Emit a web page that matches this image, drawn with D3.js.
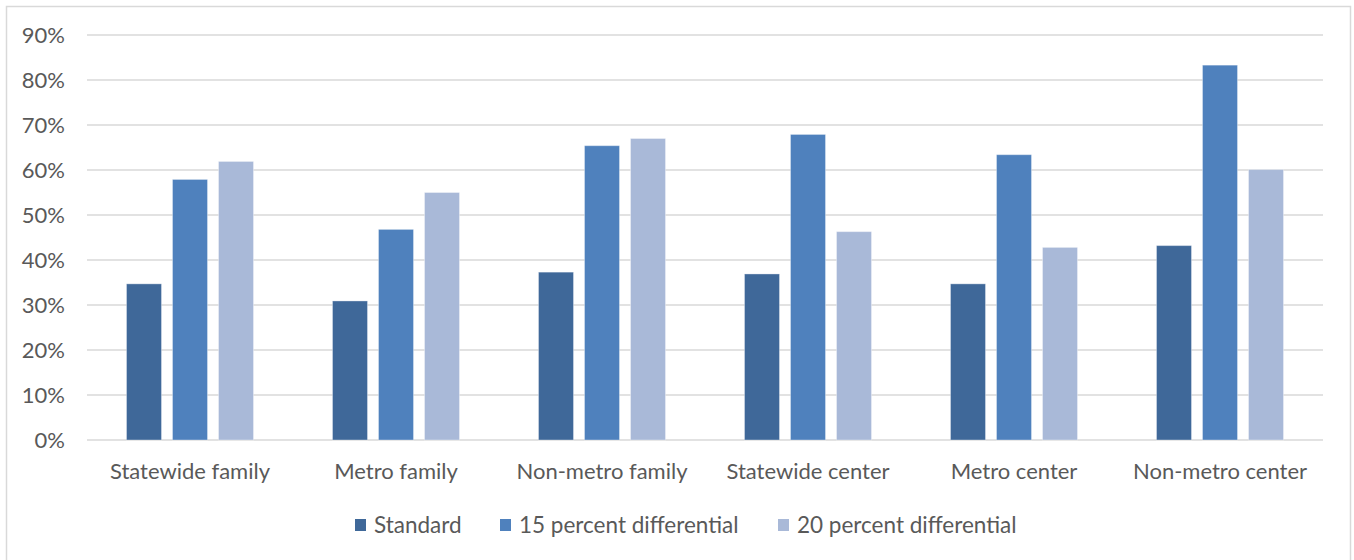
<!DOCTYPE html>
<html><head><meta charset="utf-8">
<script src="https://cdn.jsdelivr.net/npm/d3@7"></script>
<style>
html,body{margin:0;padding:0;background:#fff;}
svg{display:block;}
text{font-family:Lato,"Noto Sans",sans-serif;fill:#595959;}
</style></head>
<body>
<svg id="chart" width="1354" height="560"></svg>
<script>
const categories = ["Statewide family","Metro family","Non-metro family","Statewide center","Metro center","Non-metro center"];
const seriesNames = ["Standard","15 percent differential","20 percent differential"];
const standard = [0.347,0.309,0.373,0.369,0.347,0.432];
const diff15 = [0.579,0.468,0.654,0.679,0.634,0.833];
const diff20 = [0.619,0.550,0.670,0.463,0.428,0.601];
const yTicks = [0,0.1,0.2,0.3,0.4,0.5,0.6,0.7,0.8,0.9];
const colors = ["#3F6899","#4F81BD","#A9B9D8"];

const seriesValues = [standard, diff15, diff20];
const svg = d3.select("#chart");

// chart border
svg.append("rect").attr("x",6.5).attr("y",6.5).attr("width",1344).attr("height",570)
  .attr("fill","none").attr("stroke","#d9d9d9").attr("stroke-width",1.5);

const x = d3.scaleBand().domain(categories).range([87,1323]).paddingInner(0).paddingOuter(0);
const y = d3.scaleLinear().domain([0,0.9]).range([440,35]);
const bw = x.bandwidth();
const xs = d3.scaleBand().domain(seriesNames).range([-0.335*bw, 0.335*bw]).paddingInner(0.239).paddingOuter(0.1196);

// gridlines
svg.append("g").selectAll("line").data(yTicks).join("line")
  .attr("x1",87).attr("x2",1323)
  .attr("y1",d=>y(d)).attr("y2",d=>y(d))
  .attr("stroke","#d9d9d9").attr("stroke-width",1.6);

// y tick labels
svg.append("g").selectAll("text").data(yTicks).join("text")
  .attr("x",65).attr("y",d=>y(d)).attr("dy","0.36em")
  .attr("text-anchor","end").attr("font-size",22)
  .text(d=>d3.format(".0%")(d));

// bars
seriesNames.forEach((s,si)=>{
  svg.append("g").selectAll("rect").data(categories).join("rect")
    .attr("x",(c)=>x(c)+bw/2+xs(s))
    .attr("width",xs.bandwidth())
    .attr("y",(c,i)=>y(seriesValues[si][i]))
    .attr("height",(c,i)=>y(0)-y(seriesValues[si][i]))
    .attr("fill",colors[si])
    .attr("stroke","rgba(255,255,255,0.35)").attr("stroke-width",1);
});

// category labels
svg.append("g").selectAll("text").data(categories).join("text")
  .attr("x",c=>x(c)+bw/2).attr("y",471).attr("dy","0.36em")
  .attr("text-anchor","middle").attr("font-size",22)
  .text(c=>c);

// legend
const legendX = [355,500,778];
const lg = svg.append("g");
seriesNames.forEach((s,i)=>{
  lg.append("rect").attr("x",legendX[i]).attr("y",519).attr("width",11).attr("height",12).attr("fill",colors[i]);
  lg.append("text").attr("x",legendX[i]+19).attr("y",525).attr("dy","0.36em")
    .attr("font-size",22.5).text(s);
});
</script>
</body></html>
